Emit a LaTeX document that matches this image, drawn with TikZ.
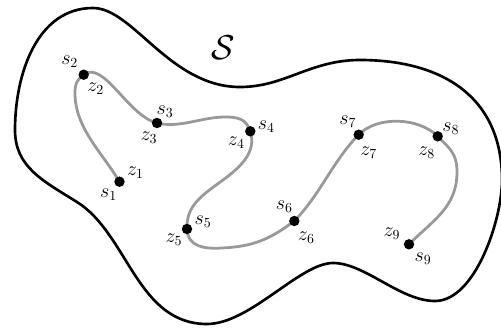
\documentclass[tikz,border=0pt]{standalone}
\begin{document}
\begin{tikzpicture}[x=0.72pt,y=-0.72pt,
  dot/.style={circle,fill=black,inner sep=0pt,minimum size=7.5pt},
  lbl/.style={inner sep=0pt,font=\Large},
  blob/.style={line width=1.9pt,black},
  trail/.style={line width=2pt,black!40}]
\useasboundingbox (0,0) rectangle (501,331);
% outer region
\coordinate (k1) at (15,130);
\coordinate (k2) at (93,8);
\coordinate (k3) at (240,87);
\coordinate (k4) at (360,60);
\coordinate (k5) at (502,180);
\coordinate (k6) at (435,301);
\coordinate (k7) at (333,263);
\coordinate (k8) at (207,324);
\coordinate (k9) at (77,202);
\draw[blob] (k1) .. controls (15,74) and (37,8) .. (k2)
  .. controls (133,8) and (170,87) .. (k3)
  .. controls (285,87) and (310,60) .. (k4)
  .. controls (440,60) and (502,95) .. (k5)
  .. controls (502,220) and (475,301) .. (k6)
  .. controls (400,301) and (365,263) .. (k7)
  .. controls (300,263) and (250,324) .. (k8)
  .. controls (137,324) and (128,234) .. (k9)
  .. controls (43,180.8) and (15,167) .. (k1) -- cycle;
\node[lbl,font=\Huge] (S) at (223,48) {$\mathcal{S}$};
% points
\coordinate (p1) at (119.5,181.7);
\coordinate (p2) at (83.7,74.7);
\coordinate (p3) at (157,123);
\coordinate (p4) at (250.3,131.3);
\coordinate (p5) at (187,229);
\coordinate (p6) at (294.3,221);
\coordinate (p7) at (358.7,134.7);
\coordinate (p8) at (437.7,136.3);
\coordinate (p9) at (409,244.3);
\coordinate (m12) at (75,93);
\coordinate (m34) at (225,117);
\coordinate (m45) at (225,178.5);
\coordinate (m56) at (222,248);
\coordinate (m89) at (457,172);
\draw[trail] (p1) .. controls (101.7,151.9) and (75,128) .. (m12)
  .. controls (75,84) and (76.5,80.1) .. (p2)
  .. controls (103.7,59.7) and (127.9,115.8) .. (p3)
  .. controls (179.3,128.5) and (202,117) .. (m34)
  .. controls (238,117) and (246.4,118.9) .. (p4)
  .. controls (256.6,151.3) and (241.8,165.9) .. (m45)
  .. controls (205,193.5) and (185.75,204) .. (p5)
  .. controls (188,247) and (204,249) .. (m56)
  .. controls (253,246.5) and (269.5,239.6) .. (p6)
  .. controls (320.2,194.7) and (332.8,161) .. (p7)
  .. controls (377.6,115.5) and (418.8,117.4) .. (p8)
  .. controls (450.3,148.9) and (457,154) .. (m89)
  .. controls (457,207) and (433.5,219.8) .. (p9);
\foreach \i in {1,...,9} \node[dot] (d\i) at (p\i) {};
% labels
\node[lbl] (s1) at ([shift={(-11,13)}]p1) {$s_1$};
\node[lbl] (z1) at ([shift={(16,-9)}]p1) {$z_1$};
\node[lbl] (s2) at ([shift={(-14,-13)}]p2) {$s_2$};
\node[lbl] (z2) at ([shift={(12,14)}]p2) {$z_2$};
\node[lbl] (s3) at ([shift={(8,-11)}]p3) {$s_3$};
\node[lbl] (z3) at ([shift={(-8,15)}]p3) {$z_3$};
\node[lbl] (s4) at ([shift={(16,-5)}]p4) {$s_4$};
\node[lbl] (z4) at ([shift={(-14,11)}]p4) {$z_4$};
\node[lbl] (s5) at ([shift={(16,-7)}]p5) {$s_5$};
\node[lbl] (z5) at ([shift={(-13,11)}]p5) {$z_5$};
\node[lbl] (s6) at ([shift={(-10,-14)}]p6) {$s_6$};
\node[lbl] (z6) at ([shift={(12,17)}]p6) {$z_6$};
\node[lbl] (s7) at ([shift={(-11,-13)}]p7) {$s_7$};
\node[lbl] (z7) at ([shift={(10,18)}]p7) {$z_7$};
\node[lbl] (s8) at ([shift={(13,-8)}]p8) {$s_8$};
\node[lbl] (z8) at ([shift={(-11,16)}]p8) {$z_8$};
\node[lbl] (s9) at ([shift={(14,14)}]p9) {$s_9$};
\node[lbl] (z9) at ([shift={(-17,-11)}]p9) {$z_9$};
\end{tikzpicture}
\end{document}
